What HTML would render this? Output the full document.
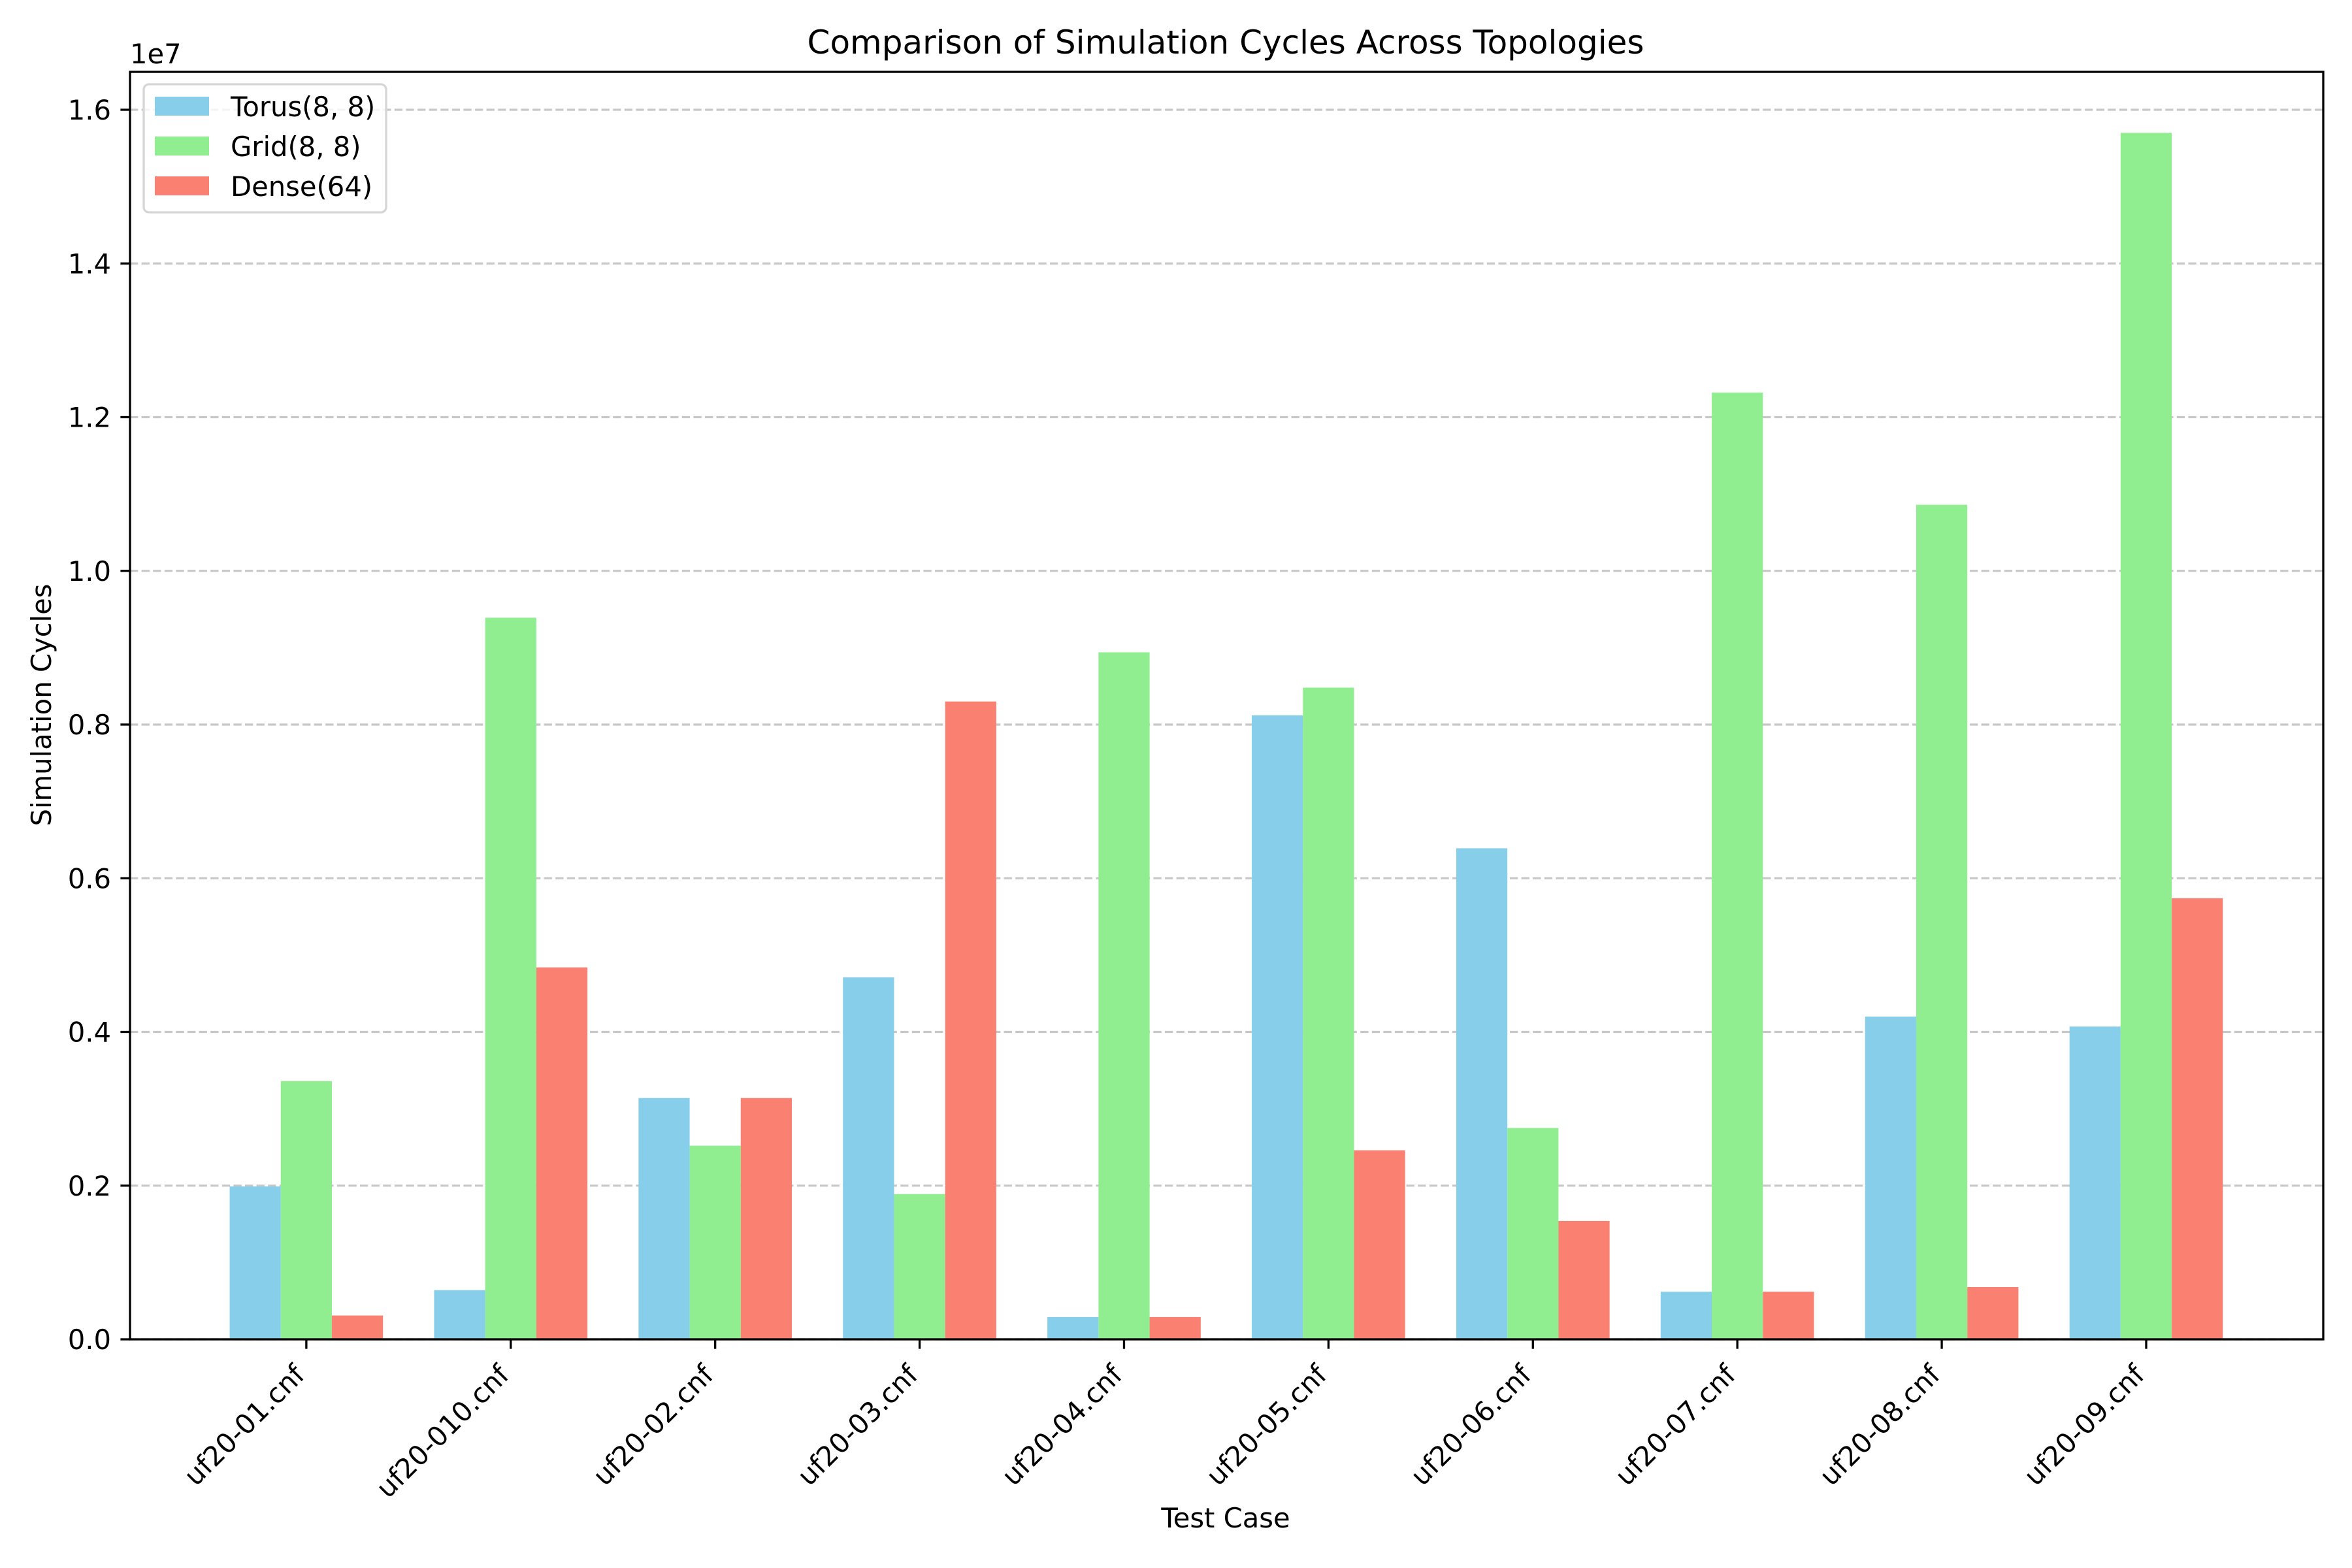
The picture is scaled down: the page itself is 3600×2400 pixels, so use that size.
<!DOCTYPE html>
<html><head><meta charset="utf-8"><style>
html,body{margin:0;padding:0;background:#fff}
svg{display:block;font-family:"DejaVu Sans","Liberation Sans",sans-serif}
</style></head><body>
<svg id="chart" width="3600" height="2400" viewBox="0 0 3600 2400" xmlns="http://www.w3.org/2000/svg">
<rect width="3600" height="2400" fill="#fff"/>
<g id="grid"></g>
<g id="bars"></g>
<g id="axes"></g>
<text x="1876" y="82" font-size="50" text-anchor="middle">Comparison of Simulation Cycles Across Topologies</text>
<text x="1876" y="2338" font-size="41.7" text-anchor="middle">Test Case</text>
<text x="0" y="0" font-size="41.7" text-anchor="middle" transform="translate(78,1079) rotate(-90)">Simulation Cycles</text>
<text x="199" y="97" font-size="41.7">1e7</text>
<g id="legend">
<rect x="220" y="129" width="371" height="196" rx="8" fill="#fff" fill-opacity="0.8" stroke="#d6d6d6" stroke-width="3.3"/>
<rect x="237" y="148" width="83" height="29" fill="#87CEEB"/>
<text x="353" y="178" font-size="41.7">Torus(8, 8)</text>
<rect x="237" y="209" width="83" height="29" fill="#90EE90"/>
<text x="353" y="239" font-size="41.7">Grid(8, 8)</text>
<rect x="237" y="270" width="83" height="29" fill="#FA8072"/>
<text x="353" y="300" font-size="41.7">Dense(64)</text>
</g>
</svg>
<script>
const categories = ["uf20-01.cnf","uf20-010.cnf","uf20-02.cnf","uf20-03.cnf","uf20-04.cnf","uf20-05.cnf","uf20-06.cnf","uf20-07.cnf","uf20-08.cnf","uf20-09.cnf"];
const torusValues = [1.99e6,0.64e6,3.14e6,4.71e6,0.29e6,8.12e6,6.39e6,0.62e6,4.20e6,4.07e6];
const gridValues = [3.36e6,9.39e6,2.52e6,1.89e6,8.94e6,8.48e6,2.75e6,12.32e6,10.86e6,15.70e6];
const denseValues = [0.31e6,4.84e6,3.14e6,8.30e6,0.29e6,2.46e6,1.54e6,0.62e6,0.68e6,5.74e6];
const yTicks = [0,2e6,4e6,6e6,8e6,10e6,12e6,14e6,16e6];
const yTickLabels = ["0.0","0.2","0.4","0.6","0.8","1.0","1.2","1.4","1.6"];

const NS="http://www.w3.org/2000/svg";
const AX_L=199, AX_R=3556, AX_T=110, AX_B=2050;
const X0=-0.8625, XK=312.9;
function xScale(v){return AX_L+(v-X0)*XK;}
const Y_PER=(AX_B-168)/16e6;
function yScale(v){return AX_B-v*Y_PER;}
function mk(tag,attrs,parent){const e=document.createElementNS(NS,tag);for(const k in attrs)e.setAttribute(k,attrs[k]);parent.appendChild(e);return e;}

const gGrid=document.getElementById('grid'), gBars=document.getElementById('bars'), gAxes=document.getElementById('axes');
const W=0.25;
yTicks.forEach((t,i)=>{
  const y=yScale(t);
  const l=mk('line',{x1:AX_L,x2:AX_R,y1:y,y2:y,stroke:'#b0b0b0','stroke-opacity':0.7,'stroke-width':3.3,'stroke-dasharray':'12.3,5.3'},gGrid);
  
  
  const tk=mk('line',{x1:AX_L-14.6,x2:AX_L,y1:y,y2:y,stroke:'#000','stroke-width':3.3},gAxes);
  
  
  const tx=mk('text',{x:AX_L-29,y:y+15,'font-size':41.7,'text-anchor':'end'},gAxes);
  tx.textContent=yTickLabels[i];
  
  
});
const series=[[torusValues,'#87CEEB',-W,'torus'],[gridValues,'#90EE90',0,'grid'],[denseValues,'#FA8072',W,'dense']];
series.forEach(([vals,col,off,nm])=>{
  vals.forEach((v,i)=>{
    const x1=xScale(i+off-W/2), x2=xScale(i+off+W/2);
    const r=mk('rect',{x:x1,y:yScale(v),width:x2-x1,height:AX_B-yScale(v),fill:col},gBars);
    
    
  });
});
categories.forEach((c,i)=>{
  const x=xScale(i);
  const tk=mk('line',{x1:x,x2:x,y1:AX_B,y2:AX_B+14.6,stroke:'#000','stroke-width':3.3},gAxes);
  
  
  const ty=AX_B+29+28;
  const t=mk('text',{x:x,y:ty,'font-size':41.7,'text-anchor':'end',transform:'rotate(-45 '+x+' '+ty+')'},gAxes);
  t.textContent=c;
  
  
});
const fr=mk('rect',{x:AX_L,y:AX_T,width:AX_R-AX_L,height:AX_B-AX_T,fill:'none',stroke:'#000','stroke-width':3.3},gAxes);


</script>
</body></html>
